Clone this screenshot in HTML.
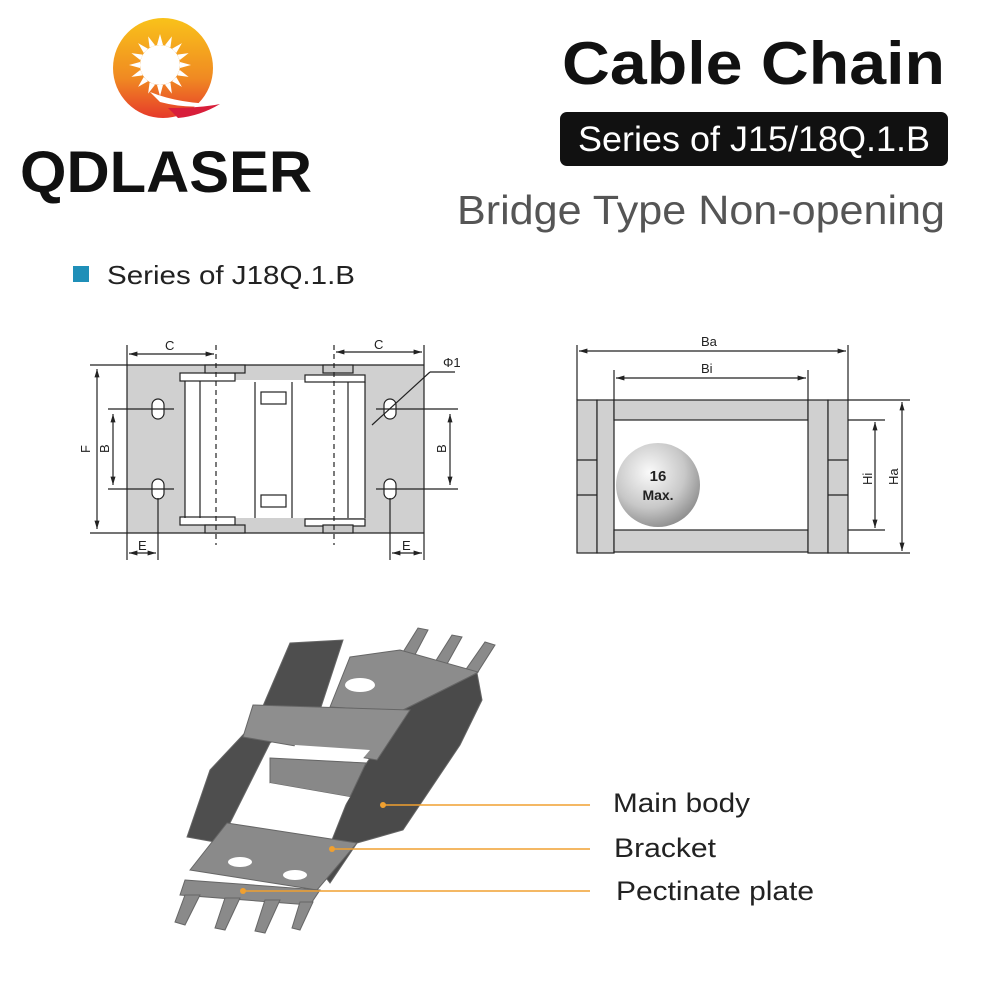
<!DOCTYPE html>
<html><head><meta charset="utf-8"><style>
html,body{margin:0;padding:0;background:#fff}
svg{display:block}
text{font-family:"Liberation Sans",Arial,sans-serif}
</style></head><body>
<svg width="1000" height="1000" viewBox="0 0 1000 1000" xmlns="http://www.w3.org/2000/svg">
<defs>
<linearGradient id="lg" x1="0" y1="0" x2="0" y2="1"><stop offset="0" stop-color="#f9c21a"/><stop offset="0.6" stop-color="#f08a22"/><stop offset="1" stop-color="#e63a2a"/></linearGradient>
<radialGradient id="ball" cx="0.4" cy="0.35" r="0.7"><stop offset="0" stop-color="#fafafa"/><stop offset="0.6" stop-color="#c8c8c8"/><stop offset="1" stop-color="#8a8a8a"/></radialGradient>
<marker id="ar" viewBox="0 0 10 10" refX="10" refY="5" markerWidth="7" markerHeight="7" orient="auto-start-reverse"><path d="M0,2 L10,5 L0,8 z" fill="#222"/></marker>
</defs>

<!-- Logo -->
<circle cx="163" cy="68" r="50" fill="url(#lg)"/>
<g fill="#fff">
<circle cx="160" cy="65" r="20"/>
<g transform="translate(160,65)">
<polygon points="-3,-20 0,-31 3,-20"/><polygon points="-3,-20 0,-31 3,-20" transform="rotate(22.5)"/><polygon points="-3,-20 0,-31 3,-20" transform="rotate(45)"/><polygon points="-3,-20 0,-31 3,-20" transform="rotate(67.5)"/><polygon points="-3,-20 0,-31 3,-20" transform="rotate(90)"/><polygon points="-3,-20 0,-31 3,-20" transform="rotate(112.5)"/><polygon points="-3,-20 0,-31 3,-20" transform="rotate(135)"/><polygon points="-3,-20 0,-31 3,-20" transform="rotate(157.5)"/><polygon points="-3,-20 0,-31 3,-20" transform="rotate(180)"/><polygon points="-3,-20 0,-31 3,-20" transform="rotate(202.5)"/><polygon points="-3,-20 0,-31 3,-20" transform="rotate(225)"/><polygon points="-3,-20 0,-31 3,-20" transform="rotate(247.5)"/><polygon points="-3,-20 0,-31 3,-20" transform="rotate(270)"/><polygon points="-3,-20 0,-31 3,-20" transform="rotate(292.5)"/><polygon points="-3,-20 0,-31 3,-20" transform="rotate(315)"/><polygon points="-3,-20 0,-31 3,-20" transform="rotate(337.5)"/>
</g>
<path d="M150,92 Q180,104 220,104 Q190,110 160,102 z"/>
</g>
<path d="M168,108 Q200,108 220,104 Q200,116 178,118 z" fill="#d81e3a"/>
<text x="20" y="192" font-size="58" font-weight="bold" fill="#111" textLength="292" lengthAdjust="spacingAndGlyphs">QDLASER</text>

<!-- Titles -->
<text x="562" y="84" font-size="60" font-weight="bold" fill="#111" textLength="383" lengthAdjust="spacingAndGlyphs">Cable Chain</text>
<rect x="560" y="112" width="388" height="54" rx="7" fill="#111"/>
<text x="578" y="151" font-size="35" fill="#fff" textLength="352" lengthAdjust="spacingAndGlyphs">Series of J15/18Q.1.B</text>
<text x="457" y="224" font-size="41" fill="#555" textLength="488" lengthAdjust="spacingAndGlyphs">Bridge Type Non-opening</text>

<rect x="73" y="266" width="16" height="16" fill="#1f8fb8"/>
<text x="107" y="284" font-size="26" fill="#222" textLength="248" lengthAdjust="spacingAndGlyphs">Series of J18Q.1.B</text>

<!-- Left drawing -->
<g stroke="#222" stroke-width="1.2" fill="none">
<rect x="127" y="365" width="297" height="168" fill="#d0d0d0" stroke="none"/>
<rect x="185" y="380" width="180" height="138" fill="#fff" stroke="none"/>
<line x1="90" y1="365" x2="424" y2="365"/>
<line x1="90" y1="533" x2="424" y2="533"/>
<line x1="127" y1="345" x2="127" y2="560"/>
<line x1="424" y1="345" x2="424" y2="560"/>
<rect x="180" y="373" width="55" height="8" fill="#fff"/>
<rect x="305" y="375" width="60" height="7" fill="#fff"/>
<rect x="180" y="517" width="55" height="8" fill="#fff"/>
<rect x="305" y="519" width="60" height="7" fill="#fff"/>
<rect x="205" y="365" width="40" height="8" fill="#c8c8c8"/>
<rect x="323" y="365" width="30" height="8" fill="#c8c8c8"/>
<rect x="205" y="525" width="40" height="8" fill="#c8c8c8"/>
<rect x="323" y="525" width="30" height="8" fill="#c8c8c8"/>
<line x1="185" y1="381" x2="185" y2="518"/>
<line x1="200" y1="381" x2="200" y2="518"/>
<line x1="255" y1="382" x2="255" y2="518"/>
<line x1="292" y1="382" x2="292" y2="518"/>
<line x1="348" y1="382" x2="348" y2="518"/>
<line x1="365" y1="382" x2="365" y2="518"/>
<rect x="261" y="392" width="25" height="12"/>
<rect x="261" y="495" width="25" height="12"/>
<line x1="216" y1="345" x2="216" y2="545" stroke-dasharray="5,4"/>
<line x1="334" y1="345" x2="334" y2="545" stroke-dasharray="5,4"/>
<rect x="152" y="399" width="12" height="20" rx="6" fill="#fff"/>
<rect x="152" y="479" width="12" height="20" rx="6" fill="#fff"/>
<rect x="384" y="399" width="12" height="20" rx="6" fill="#fff"/>
<rect x="384" y="479" width="12" height="20" rx="6" fill="#fff"/>
<line x1="108" y1="409" x2="174" y2="409"/>
<line x1="108" y1="489" x2="174" y2="489"/>
<line x1="376" y1="409" x2="458" y2="409"/>
<line x1="376" y1="489" x2="458" y2="489"/>
<line x1="158" y1="498" x2="158" y2="560"/>
<line x1="390" y1="498" x2="390" y2="560"/>
<line x1="97" y1="369" x2="97" y2="529" marker-start="url(#ar)" marker-end="url(#ar)"/>
<line x1="113" y1="414" x2="113" y2="485" marker-start="url(#ar)" marker-end="url(#ar)"/>
<line x1="450" y1="414" x2="450" y2="485" marker-start="url(#ar)" marker-end="url(#ar)"/>
<line x1="129" y1="354" x2="214" y2="354" marker-start="url(#ar)" marker-end="url(#ar)"/>
<line x1="336" y1="352" x2="422" y2="352" marker-start="url(#ar)" marker-end="url(#ar)"/>
<line x1="129" y1="553" x2="156" y2="553" marker-start="url(#ar)" marker-end="url(#ar)"/>
<line x1="392" y1="553" x2="422" y2="553" marker-start="url(#ar)" marker-end="url(#ar)"/>
<line x1="372" y1="425" x2="430" y2="372"/>
<line x1="430" y1="372" x2="455" y2="372"/>
</g>
<g font-size="13" fill="#222">
<text x="165" y="350">C</text><text x="374" y="349">C</text>
<text x="90" y="453" transform="rotate(-90 90 453)">F</text>
<text x="109" y="453" transform="rotate(-90 109 453)">B</text>
<text x="446" y="453" transform="rotate(-90 446 453)">B</text>
<text x="138" y="550">E</text><text x="402" y="550">E</text>
<text x="443" y="367">Φ1</text>
</g>

<!-- Right drawing -->
<g stroke="#222" stroke-width="1.2">
<rect x="577" y="400" width="20" height="153" fill="#d0d0d0"/>
<rect x="597" y="400" width="17" height="153" fill="#d0d0d0"/>
<rect x="614" y="400" width="194" height="20" fill="#d0d0d0"/>
<rect x="614" y="530" width="194" height="22" fill="#d0d0d0"/>
<rect x="808" y="400" width="20" height="153" fill="#d0d0d0"/>
<rect x="828" y="400" width="20" height="153" fill="#d0d0d0"/>
<line x1="577" y1="460" x2="597" y2="460"/><line x1="577" y1="495" x2="597" y2="495"/>
<line x1="828" y1="460" x2="848" y2="460"/><line x1="828" y1="495" x2="848" y2="495"/>
<g fill="none">
<line x1="577" y1="345" x2="577" y2="400"/>
<line x1="848" y1="345" x2="848" y2="400"/>
<line x1="614" y1="370" x2="614" y2="400"/>
<line x1="808" y1="370" x2="808" y2="400"/>
<line x1="579" y1="351" x2="846" y2="351" marker-start="url(#ar)" marker-end="url(#ar)"/>
<line x1="616" y1="378" x2="806" y2="378" marker-start="url(#ar)" marker-end="url(#ar)"/>
<line x1="848" y1="420" x2="885" y2="420"/>
<line x1="848" y1="530" x2="885" y2="530"/>
<line x1="848" y1="400" x2="910" y2="400"/>
<line x1="848" y1="553" x2="910" y2="553"/>
<line x1="875" y1="422" x2="875" y2="528" marker-start="url(#ar)" marker-end="url(#ar)"/>
<line x1="902" y1="402" x2="902" y2="551" marker-start="url(#ar)" marker-end="url(#ar)"/>
</g>
</g>
<circle cx="658" cy="485" r="42" fill="url(#ball)"/>
<g font-size="13" fill="#222">
<text x="701" y="346">Ba</text><text x="701" y="373">Bi</text>
<text x="872" y="485" transform="rotate(-90 872 485)">Hi</text>
<text x="898" y="485" transform="rotate(-90 898 485)">Ha</text>
</g>
<text x="658" y="481" font-size="15" font-weight="bold" fill="#222" text-anchor="middle">16</text>
<text x="658" y="500" font-size="14" font-weight="bold" fill="#222" text-anchor="middle">Max.</text>

<!-- 3D chain -->
<g stroke="#666" stroke-width="1">
<polygon points="395,665 418,628 428,630 408,668" fill="#8a8a8a"/>
<polygon points="430,670 452,635 462,637 442,673" fill="#8a8a8a"/>
<polygon points="462,675 485,642 495,645 474,678" fill="#8a8a8a"/>
<polygon points="350,657 400,650 478,672 410,712 330,707" fill="#8c8c8c"/>
<polygon points="187,837 210,770 257,720 290,643 343,640 320,710 270,743 220,843" fill="#4e4e4e"/>
<polygon points="403,710 477,673 482,700 460,745 403,830 357,843 330,883 320,870 357,777" fill="#4a4a4a"/>
<polygon points="253,705 410,710 377,760 243,737" fill="#8e8e8e"/>
<polygon points="270,758 366,763 350,797 270,783" fill="#888"/>
<polygon points="190,870 227,823 357,843 317,890" fill="#8a8a8a"/>
<polygon points="185,880 320,890 310,905 180,895" fill="#8a8a8a"/>
<polygon points="185,895 200,895 185,925 175,922" fill="#8a8a8a"/>
<polygon points="225,898 240,898 225,930 215,928" fill="#8a8a8a"/>
<polygon points="265,900 280,900 265,933 255,931" fill="#8a8a8a"/>
<polygon points="300,902 313,902 300,930 292,928" fill="#8a8a8a"/>
</g>
<ellipse cx="360" cy="685" rx="15" ry="7" fill="#fff"/>
<ellipse cx="240" cy="862" rx="12" ry="5" fill="#fff"/>
<ellipse cx="295" cy="875" rx="12" ry="5" fill="#fff"/>
<polygon points="270,783 350,797 330,830 245,820" fill="#fff"/>
<polygon points="295,745 370,750 360,762 290,758" fill="#fff"/>

<!-- leader lines -->
<g stroke="#f0a030" stroke-width="1.5">
<line x1="383" y1="805" x2="590" y2="805"/>
<line x1="332" y1="849" x2="590" y2="849"/>
<line x1="243" y1="891" x2="590" y2="891"/>
</g>
<g fill="#f0a030"><circle cx="383" cy="805" r="3"/><circle cx="332" cy="849" r="3"/><circle cx="243" cy="891" r="3"/></g>
<g font-size="27" fill="#222">
<text x="613" y="812" textLength="137" lengthAdjust="spacingAndGlyphs">Main body</text>
<text x="614" y="857" textLength="102" lengthAdjust="spacingAndGlyphs">Bracket</text>
<text x="616" y="900" textLength="198" lengthAdjust="spacingAndGlyphs">Pectinate plate</text>
</g>
</svg>
</body></html>
